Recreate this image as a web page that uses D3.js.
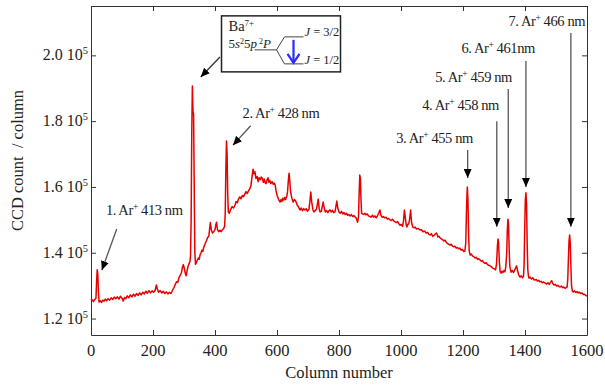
<!DOCTYPE html>
<html>
<head>
<meta charset="utf-8">
<script src="https://cdnjs.cloudflare.com/ajax/libs/d3/7.8.5/d3.min.js"></script>
<style>
  html, body { margin: 0; padding: 0; background: #fff; }
  svg text { font-family: "Liberation Serif", "Times New Roman", serif; fill: #222; }
</style>
</head>
<body>
<div id="chart"></div>
<script>
// spectrum: column number and CCD count (x1000)
const columns = [
  0, 4, 8, 12, 16, 18, 20, 22, 24, 26, 30, 34, 38, 42, 46, 50, 55, 60, 65, 70, 75, 80, 85, 90, 95,
  100, 104, 108, 112, 117, 122, 127, 132, 137, 142, 147, 152, 157, 162, 167, 172, 177, 182, 187, 192, 197,
  202, 207, 211, 214, 218, 223, 228, 233, 238, 243, 248, 253, 258, 263, 268, 272, 276, 280, 284, 288, 292, 295, 298,
  301, 304, 307, 310, 313, 316, 319, 321, 323, 325, 327, 329, 331, 333, 335, 337, 340, 343, 346, 349, 352, 355, 358,
  361, 364, 367, 370, 373, 376, 380, 383, 385, 388, 392, 396, 400, 403, 405, 408, 412, 416, 420, 424, 428, 431, 433,
  435, 437, 439, 441, 443, 446, 450, 455, 460, 465, 468, 472, 476, 480, 484, 488, 492, 496, 500, 504, 508, 512, 516,
  520, 523, 526, 529, 532, 536, 539, 542, 546, 549, 552, 556, 559, 562, 565, 568, 571, 574, 577, 580, 584, 588, 591,
  594, 597, 600, 603, 606, 610, 613, 616, 619, 622, 625, 628, 631, 634, 637, 639, 641, 644, 648, 652, 656, 660, 665,
  669, 674, 678, 682, 686, 690, 694, 698, 703, 706, 709, 712, 716, 719, 723, 727, 730, 733, 736, 739, 743, 746, 749,
  752, 756, 760, 764, 768, 771, 775, 779, 783, 787, 790, 793, 796, 800, 804, 808, 812, 816, 820, 824, 828, 832, 836,
  840, 844, 848, 852, 856, 860, 863, 865, 867, 869, 871, 873, 876, 880, 884, 887, 891, 895, 900, 904, 908, 912, 916,
  920, 924, 928, 932, 935, 939, 943, 948, 952, 956, 960, 965, 969, 973, 977, 981, 985, 989, 993, 997, 1001, 1005,
  1008, 1011, 1014, 1017, 1019, 1022, 1025, 1028, 1031, 1034, 1038, 1042, 1046, 1050, 1055, 1061, 1066, 1071, 1076,
  1081, 1086, 1090, 1094, 1098, 1102, 1106, 1110, 1114, 1116, 1119, 1123, 1126, 1130, 1134, 1138, 1142, 1146, 1150,
  1154, 1158, 1162, 1166, 1170, 1174, 1178, 1182, 1186, 1190, 1194, 1198, 1202, 1206, 1209, 1211, 1213, 1214, 1216,
  1218, 1220, 1223, 1227, 1231, 1235, 1239, 1243, 1247, 1251, 1255, 1259, 1263, 1267, 1271, 1275, 1279, 1283, 1287,
  1291, 1295, 1299, 1302, 1305, 1308, 1311, 1313, 1315, 1317, 1320, 1323, 1326, 1329, 1332, 1335, 1338, 1341, 1343,
  1345, 1347, 1349, 1351, 1355, 1359, 1363, 1367, 1370, 1373, 1376, 1380, 1384, 1388, 1392, 1395, 1397, 1399, 1401,
  1403, 1405, 1407, 1409, 1411, 1413, 1417, 1421, 1425, 1429, 1432, 1436, 1440, 1444, 1448, 1452, 1456, 1460, 1465,
  1470, 1474, 1478, 1482, 1486, 1490, 1494, 1498, 1502, 1506, 1510, 1513, 1517, 1521, 1525, 1529, 1533, 1536, 1538,
  1540, 1542, 1544, 1546, 1548, 1550, 1553, 1556, 1560, 1564, 1568, 1572, 1576, 1580, 1584, 1588, 1592, 1596, 1600
];
const counts = [
  126.0, 125.6, 125.2, 125.8, 126.2, 131.0, 134.8, 133.5, 128.0, 125.0, 125.4, 124.9, 125.6, 125.3, 125.9, 125.4, 126.0, 125.6, 126.3, 125.8, 126.5, 126.0, 126.6, 125.9, 126.8,
  126.2, 125.3, 126.4, 126.0, 126.9, 126.3, 127.2, 126.6, 127.4, 126.8, 127.6, 127.0, 127.8, 127.2, 128.0, 127.5, 128.3, 127.7, 128.5, 127.8, 128.4,
  128.0, 128.6, 130.2, 129.0, 128.0, 128.5, 127.8, 128.3, 127.6, 128.1, 127.5, 128.0, 127.6, 128.6, 129.5, 130.4, 131.2, 131.0, 132.5, 133.2, 134.0, 135.6, 136.4,
  135.2, 133.8, 133.0, 134.6, 135.8, 136.6, 137.2, 139.0, 150.0, 176.0, 190.7, 183.0, 182.0, 160.0, 140.0, 136.5, 137.0, 137.8, 138.4, 138.0, 139.4, 140.0, 140.8,
  140.4, 141.8, 142.4, 143.2, 143.8, 144.6, 145.0, 147.5, 149.2, 147.0, 146.0, 146.4, 147.0, 148.6, 149.3, 147.0, 146.4, 146.8, 146.4, 147.0, 147.4, 148.0, 152.0,
  165.0, 174.0, 170.0, 158.0, 152.5, 152.0, 153.0, 154.0, 153.6, 154.6, 155.6, 155.2, 156.4, 157.0, 156.4, 157.4, 157.0, 157.8, 158.6, 158.0, 158.8, 159.4, 160.4,
  163.5, 165.4, 164.0, 164.6, 162.6, 163.2, 161.6, 162.8, 162.2, 163.0, 162.7, 161.4, 162.4, 161.2, 161.0, 162.2, 162.8, 161.4, 162.0, 161.0, 161.6, 160.8, 161.2,
  160.6, 158.8, 157.5, 156.8, 156.0, 155.4, 156.2, 155.6, 156.6, 156.0, 156.8, 156.2, 157.0, 158.5, 162.5, 164.2, 162.0, 158.4, 156.6, 155.4, 156.2, 155.8, 154.5,
  154.0, 153.0, 153.6, 152.8, 153.4, 153.0, 153.4, 152.6, 153.2, 155.5, 158.5, 155.4, 153.0, 152.4, 152.8, 153.2, 154.6, 156.3, 153.4, 152.4, 152.6, 154.0, 155.4,
  153.8, 152.4, 152.8, 152.2, 152.8, 153.0, 152.4, 152.9, 152.2, 152.4, 154.0, 155.7, 153.6, 152.4, 152.0, 152.6, 151.8, 152.2, 151.6, 152.0, 151.4, 151.6, 151.2,
  151.6, 151.0, 151.3, 150.9, 150.4, 149.3, 151.0, 158.0, 163.6, 162.5, 156.0, 152.0, 151.8, 151.6, 152.0, 151.5, 151.8, 151.2, 151.0, 150.8, 151.4, 150.8, 151.2,
  150.6, 151.2, 152.0, 153.0, 151.4, 150.8, 151.0, 150.6, 150.8, 150.2, 150.4, 150.0, 149.8, 150.2, 149.6, 149.4, 149.2, 149.5, 148.8, 148.4, 148.6, 148.0,
  149.6, 153.0, 150.6, 148.4, 147.8, 148.6, 148.8, 150.4, 153.0, 149.2, 147.8, 147.6, 147.8, 147.2, 147.4, 146.9, 147.0, 146.4, 146.6,
  146.0, 146.2, 145.6, 145.4, 145.8, 145.0, 145.2, 145.6, 146.0, 145.8, 144.8, 145.0, 144.5, 144.2, 144.0, 143.6, 143.8, 143.2, 142.8,
  142.6, 142.3, 142.6, 142.0, 141.8, 142.0, 141.4, 141.6, 141.2, 141.4, 140.8, 141.0, 140.4, 140.5, 143.0, 152.0, 158.0, 160.0, 156.0,
  146.0, 140.6, 139.3, 139.6, 139.0, 138.8, 138.4, 138.6, 138.0, 138.2, 137.8, 137.4, 137.6, 137.0, 136.8, 137.0, 136.4, 136.2, 136.0,
  135.8, 135.4, 135.2, 135.0, 134.8, 136.5, 142.0, 144.2, 143.0, 137.5, 134.2, 133.8, 134.4, 134.0, 134.6, 134.2, 135.6, 140.0, 147.0,
  150.2, 148.5, 141.0, 135.8, 134.1, 134.6, 134.0, 134.8, 135.4, 136.0, 134.6, 133.2, 132.6, 133.0, 132.4, 132.8, 136.0, 147.0, 156.0,
  158.2, 155.0, 143.0, 135.0, 133.0, 132.3, 132.6, 132.0, 132.4, 131.8, 131.7, 131.9, 131.4, 131.6, 131.2, 131.3, 130.9, 131.1, 130.8,
  130.5, 130.9, 130.4, 131.0, 131.5, 130.6, 130.2, 130.4, 129.9, 130.1, 129.7, 129.6, 129.9, 129.4, 129.6, 129.2, 129.4, 129.6, 132.0,
  138.0, 143.5, 145.4, 143.0, 136.0, 130.0, 128.2, 128.1, 128.4, 127.9, 128.2, 127.8, 128.0, 127.6, 127.8, 127.3, 127.4, 127.0, 126.8
];

const xTicks = [0, 200, 400, 600, 800, 1000, 1200, 1400, 1600];
const yTicks = [1.2, 1.4, 1.6, 1.8, 2.0];   // x 10^5

// peak labels: text, arrow tip (column, count x1000), arrow tail, label anchor
const argonLabels = [
  { n: '1.', nm: '413 nm', tip: [35, 134.7], tail: [83, 147.2], at: [48, 151.5], anchor: 'start' },
  { n: '2.', nm: '428 nm', tip: [458, 172.7], tail: [515, 178.6], at: [489, 181.0], anchor: 'start' },
  { n: '3.', nm: '455 nm', tip: [1215, 162.7], tail: [1215, 171.2], at: [1232, 173.4], anchor: 'end' },
  { n: '4.', nm: '458 nm', tip: [1309, 147.9], tail: [1309, 180.0], at: [1316, 183.4], anchor: 'end' },
  { n: '5.', nm: '459 nm', tip: [1346, 153.6], tail: [1346, 189.8], at: [1358, 191.9], anchor: 'end' },
  { n: '6.', nm: '461nm', tip: [1403, 160.0], tail: [1403, 198.3], at: [1432, 200.7], anchor: 'end' },
  { n: '7.', nm: '466 nm', tip: [1548, 147.9], tail: [1548, 206.8], at: [1594, 208.9], anchor: 'end' }
];

const width = 605, height = 385;
const margin = { L: 91, R: 18, T: 6, B: 50 };

const svg = d3.select('#chart').append('svg')
  .attr('width', width).attr('height', height);

const x = d3.scaleLinear().domain([0, 1600]).range([margin.L, width - margin.R]);
const y = d3.scaleLinear().domain([115, 215]).range([height - margin.B, margin.T]);

svg.append('defs').append('marker')
  .attr('id', 'head')
  .attr('viewBox', '0 -4 9 8')
  .attr('refX', 9).attr('refY', 0)
  .attr('markerWidth', 9).attr('markerHeight', 8)
  .attr('markerUnits', 'userSpaceOnUse')
  .attr('orient', 'auto')
  .append('path').attr('d', 'M0,-4L9,0L0,4Z').attr('fill', '#000');

// axes, ticks pointing inward on all four sides
const axisColor = '#333';
const styleAxis = g => {
  g.selectAll('path, line').attr('stroke', axisColor).attr('stroke-width', 1);
  g.selectAll('text').remove();
};
svg.append('g').attr('transform', `translate(0,${y.range()[0]})`)
  .call(d3.axisBottom(x).tickValues(xTicks).tickSizeInner(-5).tickSizeOuter(0)).call(styleAxis);
svg.append('g').attr('transform', `translate(0,${margin.T})`)
  .call(d3.axisTop(x).tickValues(xTicks).tickSizeInner(-5).tickSizeOuter(0)).call(styleAxis);
svg.append('g').attr('transform', `translate(${margin.L},0)`)
  .call(d3.axisLeft(y).tickValues(yTicks.map(v => v * 100)).tickSizeInner(-5).tickSizeOuter(0)).call(styleAxis);
svg.append('g').attr('transform', `translate(${width - margin.R},0)`)
  .call(d3.axisRight(y).tickValues(yTicks.map(v => v * 100)).tickSizeInner(-5).tickSizeOuter(0)).call(styleAxis);

// tick labels
svg.append('g').selectAll('text').data(xTicks).join('text')
  .attr('x', d => x(d)).attr('y', y.range()[0] + 21)
  .attr('text-anchor', 'middle').attr('font-size', 16.5)
  .text(d => d);

const yl = svg.append('g').selectAll('text').data(yTicks).join('text')
  .attr('x', margin.L - 3).attr('y', d => y(d * 100) + 5)
  .attr('text-anchor', 'end').attr('font-size', 16);
yl.append('tspan').text(d => d.toFixed(1) + ' 10');
yl.append('tspan').attr('dy', -6).attr('font-size', 10.5).text('5');

svg.append('text')
  .attr('x', (x.range()[0] + x.range()[1]) / 2).attr('y', 378)
  .attr('text-anchor', 'middle').attr('font-size', 16.5)
  .text('Column number');

svg.append('text')
  .attr('transform', `translate(23,${(y.range()[0] + y.range()[1]) / 2 - 10}) rotate(-90)`)
  .attr('text-anchor', 'middle').attr('font-size', 16.5)
  .attr('xml:space', 'preserve')
  .text('CCD count  / column');

// spectrum
const line = d3.line().x(d => x(d[0])).y(d => y(d[1]));
svg.append('path')
  .datum(columns.map((c, i) => [c, counts[i]]))
  .attr('d', line)
  .attr('fill', 'none')
  .attr('stroke', '#e60000')
  .attr('stroke-width', 1.5)
  .attr('stroke-linejoin', 'round');

// Ar+ line labels and arrows
argonLabels.forEach(a => {
  svg.append('line')
    .attr('x1', x(a.tail[0])).attr('y1', y(a.tail[1]))
    .attr('x2', x(a.tip[0])).attr('y2', y(a.tip[1]))
    .attr('stroke', '#555').attr('stroke-width', 1.3)
    .attr('marker-end', 'url(#head)');
  const t = svg.append('text')
    .attr('x', x(a.at[0])).attr('y', y(a.at[1]))
    .attr('text-anchor', a.anchor).attr('font-size', 14.5)
    .attr('letter-spacing', -0.4);
  t.append('tspan').text(a.n + ' Ar');
  t.append('tspan').attr('dy', -5).attr('font-size', 9.5).text('+');
  t.append('tspan').attr('dy', 5).text(' ' + a.nm);
});

// Ba7+ inset box
const box = svg.append('g').attr('transform', `translate(${x(421)},${y(212)})`);
box.append('rect').attr('width', 119).attr('height', 56)
  .attr('fill', '#fff').attr('stroke', '#222').attr('stroke-width', 1.5);
const ba = box.append('text').attr('x', 7).attr('y', 15).attr('font-size', 14.5);
ba.append('tspan').text('Ba');
ba.append('tspan').attr('dy', -5).attr('font-size', 9).text('7+');
const cfg = box.append('text').attr('x', 7).attr('y', 32).attr('font-size', 13);
cfg.append('tspan').text('5');
cfg.append('tspan').attr('font-style', 'italic').text('s');
cfg.append('tspan').attr('dy', -4).attr('font-size', 8).text('2');
cfg.append('tspan').attr('dy', 4).text('5');
cfg.append('tspan').attr('font-style', 'italic').text('p');
cfg.append('tspan').attr('dy', -4).attr('font-size', 8).text(' 2');
cfg.append('tspan').attr('dy', 4).attr('font-style', 'italic').text('P');
box.append('path')
  .attr('d', 'M33,34H55L63,21H82M55,34L63,48H82')
  .attr('fill', 'none').attr('stroke', '#444').attr('stroke-width', 1);
[['3/2', 20], ['1/2', 48]].forEach(([j, ty]) => {
  const jt = box.append('text').attr('x', 83).attr('y', ty).attr('font-size', 12.5);
  jt.append('tspan').attr('font-style', 'italic').text('J');
  jt.append('tspan').text(' = ' + j);
});
box.append('line').attr('x1', 72).attr('y1', 24).attr('x2', 72).attr('y2', 45)
  .attr('stroke', '#2a2aff').attr('stroke-width', 2.2);
box.append('path').attr('d', 'M66,38L72,47L78,38')
  .attr('fill', 'none').attr('stroke', '#2a2aff').attr('stroke-width', 2.2);

svg.append('line')
  .attr('x1', x(416)).attr('y1', y(199.5))
  .attr('x2', x(354)).attr('y2', y(193.4))
  .attr('stroke', '#333').attr('stroke-width', 1.3)
  .attr('marker-end', 'url(#head)');
</script>
</body>
</html>
